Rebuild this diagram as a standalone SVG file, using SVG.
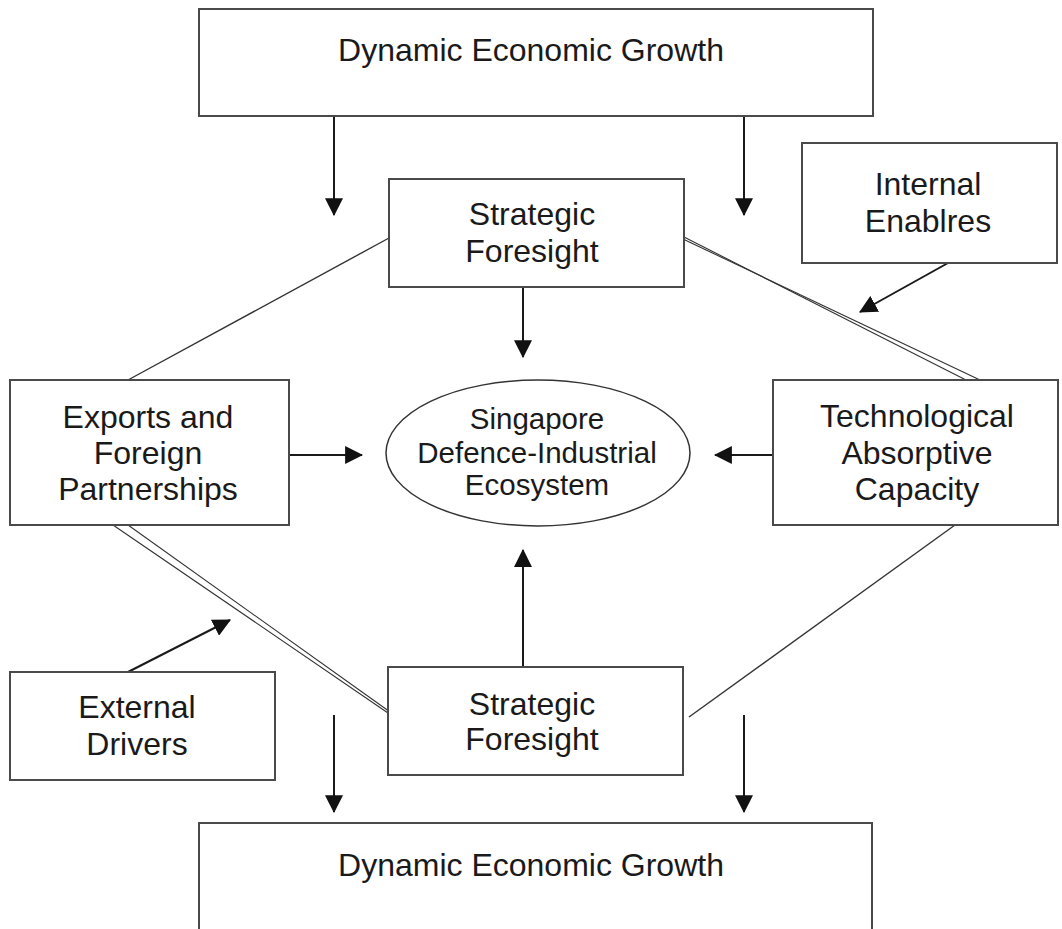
<svg xmlns="http://www.w3.org/2000/svg" width="1062" height="929" viewBox="0 0 1062 929">
<style>
.box{fill:#fff;stroke:#4a4a4a;stroke-width:2}
.t{font-family:"Liberation Sans",Arial,sans-serif;font-size:32px;fill:#1a1a1a;text-anchor:middle}
.te{font-family:"Liberation Sans",Arial,sans-serif;font-size:29.5px;fill:#1a1a1a;text-anchor:middle}
.arr{stroke:#1a1a1a;stroke-width:2;fill:none;marker-end:url(#ah)}
.ln{stroke:#333;stroke-width:1.4;fill:none}
.dl{stroke:#333;stroke-width:1.1;fill:none}
</style>
<defs>
<marker id="ah" markerUnits="userSpaceOnUse" markerWidth="18" markerHeight="18" viewBox="0 0 16 16" refX="15" refY="8" orient="auto">
<path d="M0,0 L16,8 L0,16 Z" fill="#111"/>
</marker>
</defs>
<rect width="1062" height="929" fill="#fff"/>
<g id="connectors">
<line class="arr" x1="334" y1="116" x2="334" y2="215"/>
<line class="arr" x1="744" y1="116" x2="744" y2="215"/>
<line class="arr" x1="523" y1="287" x2="523" y2="357"/>
<line class="arr" x1="289" y1="455" x2="362" y2="455"/>
<line class="arr" x1="773" y1="455" x2="715" y2="455"/>
<line class="arr" x1="523" y1="667" x2="523" y2="550"/>
<line class="arr" x1="334" y1="715" x2="334" y2="812"/>
<line class="arr" x1="744" y1="715" x2="744" y2="812"/>
<line class="arr" x1="948" y1="263" x2="860" y2="312"/>
<line class="arr" x1="128" y1="672" x2="230" y2="620"/>
<line class="ln" x1="389" y1="238" x2="128" y2="380"/>
<line class="ln" x1="955" y1="525" x2="689" y2="717"/>
<line class="dl" x1="684" y1="237" x2="966" y2="380"/>
<line class="dl" x1="684" y1="239.5" x2="980" y2="380"/>
<line class="dl" x1="113" y1="525" x2="388" y2="713"/>
<line class="dl" x1="128" y1="525" x2="388" y2="710.5"/>
</g>
<g id="growth-top">
<rect class="box" x="199" y="9" width="674" height="107"/>
<text class="t" x="531" y="61">Dynamic Economic Growth</text>
</g>
<g id="foresight-top">
<rect class="box" x="389" y="179" width="295" height="108"/>
<text class="t" x="532" y="225">Strategic</text>
<text class="t" x="532" y="262">Foresight</text>
</g>
<g id="internal-enablers">
<rect class="box" x="802" y="143" width="255" height="120"/>
<text class="t" x="928" y="195">Internal</text>
<text class="t" x="928" y="232">Enablres</text>
</g>
<g id="exports">
<rect class="box" x="10" y="380" width="279" height="145"/>
<text class="t" x="148" y="428">Exports and</text>
<text class="t" x="148" y="464">Foreign</text>
<text class="t" x="148" y="500">Partnerships</text>
</g>
<g id="ecosystem">
<ellipse cx="538" cy="453" rx="152" ry="73" fill="#fff" stroke="#333" stroke-width="1.5"/>
<text class="te" x="537" y="429">Singapore</text>
<text class="te" x="537" y="463">Defence-Industrial</text>
<text class="te" x="537" y="495">Ecosystem</text>
</g>
<g id="technological">
<rect class="box" x="773" y="380" width="285" height="145"/>
<text class="t" x="917" y="427">Technological</text>
<text class="t" x="917" y="464">Absorptive</text>
<text class="t" x="917" y="500">Capacity</text>
</g>
<g id="external-drivers">
<rect class="box" x="10" y="672" width="265" height="108"/>
<text class="t" x="137" y="718">External</text>
<text class="t" x="137" y="755">Drivers</text>
</g>
<g id="foresight-bottom">
<rect class="box" x="388" y="667" width="295" height="108"/>
<text class="t" x="532" y="715">Strategic</text>
<text class="t" x="532" y="750">Foresight</text>
</g>
<g id="growth-bottom">
<rect class="box" x="199" y="823" width="673" height="120"/>
<text class="t" x="531" y="876">Dynamic Economic Growth</text>
</g>
</svg>
